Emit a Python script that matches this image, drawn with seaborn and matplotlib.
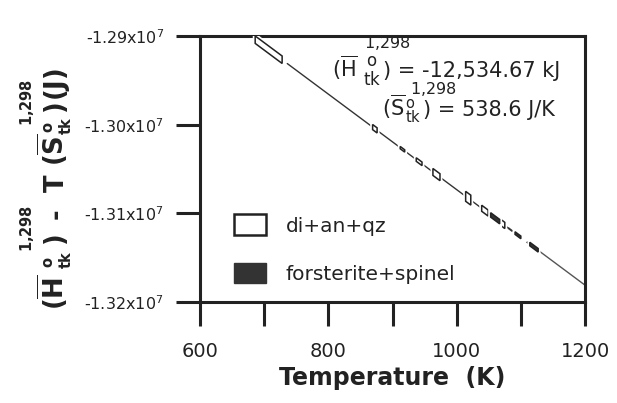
import matplotlib
matplotlib.use("Agg")
import matplotlib.pyplot as plt
import matplotlib.patheffects as pe
from matplotlib.patches import Polygon, Patch
import numpy as np
import pandas as pd
import seaborn as sns

# ---------------- data ----------------
# di+an+qz boxes: temperature range (K) and centre G values (J) at each end, half-height (J)
open_T1 = [686, 869, 912, 937, 963, 1014, 1039, 1065]
open_T2 = [728, 876, 919, 946, 974, 1022, 1049, 1075]
open_G1 = [-12904150, -13002713, -13025873, -13039338, -13053342, -13080810, -13094275, -13108279]
open_G2 = [-12926771, -13006484, -13029643, -13044186, -13059266, -13085119, -13099661, -13113665]
open_h = [4200, 2900, 1300, 2000, 3900, 5600, 3400, 3500]

# forsterite+spinel boxes
fill_T1 = [1053, 1091, 1114]
fill_T2 = [1067, 1100, 1127]
fill_G1 = [-13101816, -13122283, -13134670]
fill_G2 = [-13109356, -13127130, -13141672]
fill_h = [2500, 1500, 2000]

# fitted line segments (T, G)
solid1_T = [736, 1080]
solid1_G = [-12931080, -13116358]
dash_T = [1080, 1112]
dash_G = [-13116358, -13133593]
solid2_T = [1127, 1200]
solid2_G = [-13141672, -13180990]

x_ticks = [600, 800, 1000, 1200]
x_minor = [700, 900, 1100]
y_ticks = [-1.29e7, -1.30e7, -1.31e7, -1.32e7]
y_tick_labels = ["-1.29", "-1.30", "-1.31", "-1.32"]

H_text = ") = -12,534.67 kJ"
S_text = ") = 538.6 J/K"
ref_text = r"$\mathrm{1{,}298}$"

# ---------------- figure ----------------
sns.set_theme(style="ticks")
plt.rcParams["font.family"] = ["DejaVu Sans"]
plt.rcParams["mathtext.fontset"] = "dejavusans"

W, Hh = 617, 403
fig = plt.figure(figsize=(W / 100, Hh / 100), dpi=100)
fig.patch.set_facecolor("white")
ax = fig.add_axes([200 / W, 1 - 302 / Hh, 385 / W, 266 / Hh])
ax.set_facecolor("white")

def px(x, y):
    return (x / W, 1 - y / Hh)

INK = "#222222"

df1 = pd.DataFrame({"T": solid1_T, "G": solid1_G})
df2 = pd.DataFrame({"T": dash_T, "G": dash_G})
df3 = pd.DataFrame({"T": solid2_T, "G": solid2_G})
sns.lineplot(data=df1, x="T", y="G", ax=ax, color="#333333", lw=1.0, zorder=2)
sns.lineplot(data=df2, x="T", y="G", ax=ax, color="#333333", lw=1.4, zorder=2,
             linestyle=(0, (3, 3)))
sns.lineplot(data=df3, x="T", y="G", ax=ax, color="#555555", lw=1.0, zorder=2)

halo = [pe.Stroke(linewidth=3.5, foreground="white"), pe.Normal()]

def add_box(t1, t2, g1, g2, h, filled):
    verts = [(t1, g1 - h), (t1, g1 + h), (t2, g2 + h), (t2, g2 - h)]
    poly = Polygon(verts, closed=True,
                   facecolor="#333333" if filled else "white",
                   edgecolor=INK, lw=1.1, zorder=4)
    poly.set_path_effects(halo)
    ax.add_patch(poly)

for t1, t2, g1, g2, h in zip(open_T1, open_T2, open_G1, open_G2, open_h):
    add_box(t1, t2, g1, g2, h, False)
for t1, t2, g1, g2, h in zip(fill_T1, fill_T2, fill_G1, fill_G2, fill_h):
    add_box(t1, t2, g1, g2, h, True)

ax.set_xlim(600, 1200)
ax.set_ylim(-1.32e7, -1.29e7)
ax.set_xticks(x_ticks)
ax.set_xticks(x_minor, minor=True)
ax.set_xticklabels([str(v) for v in x_ticks], fontsize=14, color=INK)
ax.set_yticks(y_ticks)
ax.set_yticklabels([s + r"x10$^{7}$" for s in y_tick_labels], fontsize=11.5, color=INK)
ax.tick_params(axis="both", which="both", direction="out", length=17, width=2.2,
               color=INK, top=False, right=False)
ax.tick_params(axis="x", which="both", pad=12)
ax.tick_params(axis="y", pad=9)
ax.set_xlabel("")
ax.set_ylabel("")
for sp in ax.spines.values():
    sp.set_visible(True)
    sp.set_linewidth(2.2)
    sp.set_color(INK)

# x label
fig.text(*px(392, 378), "Temperature  (K)", fontsize=17, fontweight="bold",
         ha="center", va="center", color=INK)

# y label, built from rotated pieces (x = baseline position, y = centre along text)
def yl(xb, yc, s, size):
    fig.text(*px(xb, yc), s, fontsize=size, rotation=90, rotation_mode="anchor",
             ha="center", va="baseline", color=INK, fontweight="bold")

MAIN, SMALL = 18.5, 10.5
yl(64, 292, r"$\mathbf{(\overline{H}}$", MAIN)
yl(53, 262, r"$\mathbf{o}$", SMALL)
yl(71, 260, r"$\mathbf{tk}$", SMALL)
yl(32, 228, r"$\mathbf{1{,}298}$", SMALL)
yl(64, 240, r"$\mathbf{)}$", MAIN)
yl(64, 214, "-", MAIN)
yl(64, 183, r"$\mathbf{T}$", MAIN)
yl(64, 150, r"$\mathbf{(\overline{S}}$", MAIN)
yl(53, 127, r"$\mathbf{o}$", SMALL)
yl(71, 126, r"$\mathbf{tk}$", SMALL)
yl(32, 102, r"$\mathbf{1{,}298}$", SMALL)
yl(64, 108, r"$\mathbf{)}$", MAIN)
yl(64, 85, r"$\mathbf{(J)}$", MAIN)

# annotations
def t(x, y, s, size):
    fig.text(*px(x, y), s, fontsize=size, ha="left", va="baseline", color=INK)

t(332, 77, r"$(\overline{\mathrm{H}}$", 15)
t(366, 65.5, r"$\mathrm{o}$", 12)
t(363, 85, r"$\mathrm{tk}$", 12)
t(383, 77, H_text, 15)
t(364, 48, ref_text, 11.5)

t(382, 116, r"$(\overline{\mathrm{S}}$", 15)
t(405, 116, r"${}^{\mathrm{o}}_{\mathrm{tk}}$", 15)
t(423, 116, S_text, 15)
t(410, 94.5, ref_text, 11.5)

# legend
handles = [Patch(facecolor="white", edgecolor=INK, lw=1.8, label="di+an+qz"),
           Patch(facecolor="#333333", edgecolor="#333333", lw=1.0, label="forsterite+spinel")]
leg = ax.legend(handles=handles, loc="lower left", bbox_to_anchor=(0.04, 0.0),
                frameon=False, fontsize=14.5, handlelength=1.6, handleheight=1.2,
                handletextpad=1.0, labelspacing=1.35, labelcolor=INK)

fig.savefig("out.png", dpi=100, facecolor="white")
